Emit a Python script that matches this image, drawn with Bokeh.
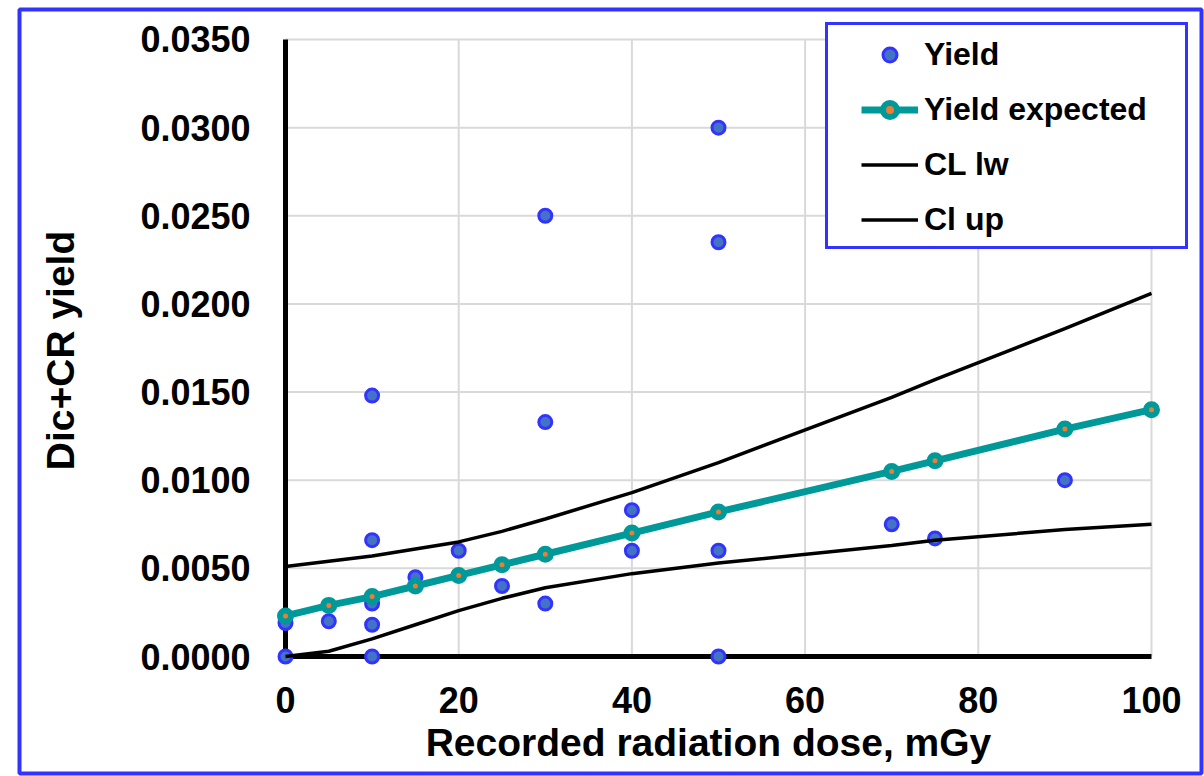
from bokeh.plotting import figure
from bokeh.models import (Range1d, FixedTicker, NumeralTickFormatter, Legend,
                          LegendItem)
from bokeh.embed import file_html
from bokeh.resources import INLINE

# ---------------- data ----------------
x_ticks = [0, 20, 40, 60, 80, 100]
y_ticks = [0.0, 0.005, 0.010, 0.015, 0.020, 0.025, 0.030, 0.035]

yield_x = [0, 0, 5, 10, 10, 10, 10, 10, 15, 20, 25, 30, 30, 30, 40, 40,
           50, 50, 50, 50, 70, 75, 90]
yield_y = [0.0000, 0.0019, 0.0020, 0.0000, 0.0018, 0.0030, 0.0066, 0.0148,
           0.0045, 0.0060, 0.0040, 0.0030, 0.0133, 0.0250, 0.0083, 0.0060,
           0.0000, 0.0060, 0.0235, 0.0300, 0.0075, 0.0067, 0.0100]

dose = [0, 5, 10, 15, 20, 25, 30, 40, 50, 70, 75, 90, 100]
yield_expected = [0.0023, 0.0029, 0.0034, 0.0040, 0.0046, 0.0052, 0.0058,
                  0.0070, 0.0082, 0.0105, 0.0111, 0.0129, 0.0140]
cl_lw = [0.0000, 0.0003, 0.0010, 0.0018, 0.0026, 0.0033, 0.0039, 0.0047,
         0.0053, 0.0063, 0.0066, 0.0072, 0.0075]
cl_up = [0.0051, 0.0054, 0.0057, 0.0061, 0.0065, 0.0071, 0.0078, 0.0093,
         0.0110, 0.0147, 0.0157, 0.0186, 0.0206]

x_title = "Recorded radiation dose, mGy"
y_title = "Dic+CR yield"

# ---------------- style / geometry ----------------
FONT = "Liberation Sans"
BLUE = "#3333ff"
TEAL = "#009999"
ORANGE = "#ED7D31"
PT_FILL = "#4472C4"
GRID = "#d9d9d9"

W, H = 1204, 776
F_LEFT, F_RIGHT, F_TOP, F_BOTTOM = 19, 1201, 9, 773   # blue chart border
X0_PX, Y0_PX = 285, 656        # pixel position of the data origin
PX_X, PX_Y = 8.66, 17629.0     # pixels per data unit

x_min, x_max = x_ticks[0], x_ticks[-1]
y_min, y_max = y_ticks[0], y_ticks[-1]

p = figure(width=W, height=H,
           x_range=Range1d(-(X0_PX - F_LEFT) / PX_X, (F_RIGHT - X0_PX) / PX_X),
           y_range=Range1d(-(F_BOTTOM - Y0_PX) / PX_Y, (Y0_PX - F_TOP) / PX_Y),
           output_backend="svg", toolbar_location=None,
           min_border_left=F_LEFT, min_border_right=W - F_RIGHT,
           min_border_top=F_TOP, min_border_bottom=H - F_BOTTOM)
p.outline_line_color = BLUE
p.outline_line_width = 4
p.outline_line_alpha = 1.0
p.background_fill_color = "white"
p.border_fill_color = "white"
p.xgrid.visible = False
p.ygrid.visible = False

for ax in (p.xaxis[0], p.yaxis[0]):
    ax.fixed_location = 0
    ax.axis_line_color = None
    ax.major_tick_line_color = None
    ax.minor_tick_line_color = None
    ax.major_tick_out = 0
    ax.major_tick_in = 0
    ax.minor_tick_out = 0
    ax.minor_tick_in = 0
    ax.major_label_text_font = FONT
    ax.major_label_text_font_style = "bold"
    ax.major_label_text_font_size = "36px"
    ax.major_label_text_color = "black"
    ax.axis_label_text_font = FONT
    ax.axis_label_text_font_style = "bold"
    ax.axis_label_text_font_size = "39px"
    ax.axis_label_text_color = "black"

p.xaxis.ticker = FixedTicker(ticks=x_ticks)
p.xaxis.formatter = NumeralTickFormatter(format="0")
p.xaxis.major_label_standoff = 30
p.xaxis.bounds = (x_min - 2.3, x_max)
p.xaxis.axis_label = x_title
p.xaxis.axis_label_standoff = 5

p.yaxis.ticker = FixedTicker(ticks=y_ticks)
p.yaxis.formatter = NumeralTickFormatter(format="0.0000")
p.yaxis.major_label_standoff = 35
p.yaxis.bounds = (y_min - 0.0003, y_max)
p.yaxis.axis_label = y_title
p.yaxis.axis_label_standoff = 55

# gridlines (within the plot area only)
nx, ny = len(x_ticks) - 1, len(y_ticks) - 1
p.segment(x0=x_ticks[1:], x1=x_ticks[1:], y0=[y_min] * nx, y1=[y_max] * nx,
          line_color=GRID, line_width=2)
p.segment(x0=[x_min] * ny, x1=[x_max] * ny, y0=y_ticks[1:], y1=y_ticks[1:],
          line_color=GRID, line_width=2)
# axis lines
p.segment(x0=[x_min, x_min], y0=[y_min, y_min], x1=[x_min, x_max],
          y1=[y_max, y_min], line_color="black", line_width=5)

# series
r_yield = p.scatter(yield_x, yield_y, size=13, fill_color=PT_FILL,
                    line_color=BLUE, line_width=3)
r_exp_l = p.line(dose, yield_expected, line_color=TEAL, line_width=7)
r_exp_m = p.scatter(dose, yield_expected, size=11, fill_color=ORANGE,
                    line_color=TEAL, line_width=6)
r_lw = p.line(dose, cl_lw, line_color="black", line_width=3.5)
r_up = p.line(dose, cl_up, line_color="black", line_width=3.5)

# legend box (frame only)
dummy = p.scatter([], [], alpha=0)
frame_leg = Legend(items=[LegendItem(label=" ", renderers=[dummy])],
                   location=(824.5 - F_LEFT, F_BOTTOM - 248.5),
                   padding=0, spacing=0,
                   glyph_width=10, glyph_height=221, label_width=347,
                   label_standoff=0, label_height=20,
                   border_line_color=BLUE, border_line_width=3.5,
                   border_line_alpha=1.0,
                   background_fill_color="white", background_fill_alpha=1.0)
p.add_layout(frame_leg, "center")

leg = Legend(items=[LegendItem(label="Yield", renderers=[r_yield]),
                    LegendItem(label="Yield expected", renderers=[r_exp_l, r_exp_m]),
                    LegendItem(label="CL lw", renderers=[r_lw]),
                    LegendItem(label="Cl up", renderers=[r_up])],
             location=(861 - F_LEFT, F_BOTTOM - 237.5), padding=10, spacing=18,
             glyph_width=57, glyph_height=35, label_height=30,
             label_standoff=6, border_line_color=None,
             background_fill_alpha=0.0,
             label_text_font=FONT, label_text_font_style="bold",
             label_text_font_size="32px", label_text_color="black")
p.add_layout(leg, "center")

open("out.html", "w").write(file_html(p, INLINE))
